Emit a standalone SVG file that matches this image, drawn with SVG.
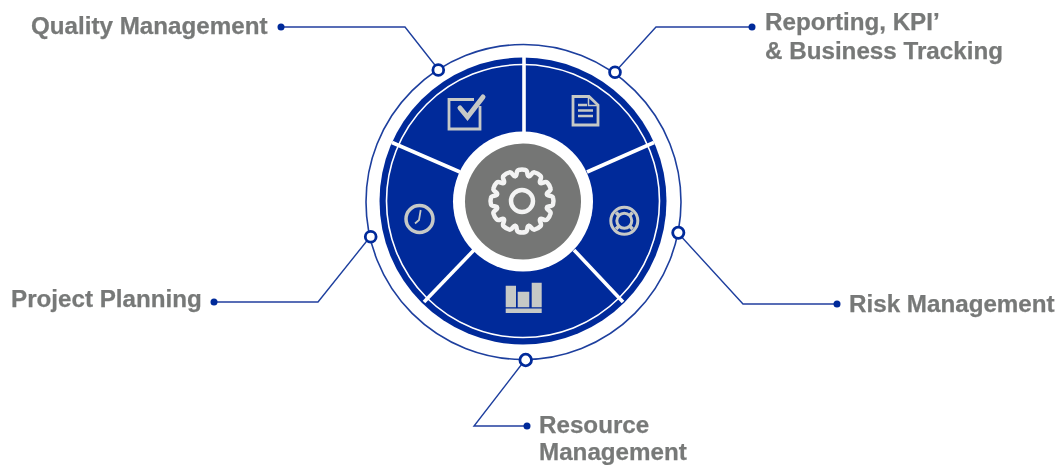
<svg xmlns="http://www.w3.org/2000/svg" xmlns:xlink="http://www.w3.org/1999/xlink" width="1057" height="466" viewBox="0 0 1057 466">
<style>
.lbl{font-family:"Liberation Sans",Arial,sans-serif;font-weight:700;font-size:24.2px;fill:#777978;stroke:#777978;stroke-width:.25}
.conn{fill:none;stroke:#1f3f9e;stroke-width:1.4}
.dot{fill:#00299a}
.port{fill:#fff;stroke:#00299a;stroke-width:2.8}
.ic{fill:none;stroke:#c6c9c6}
.icf{fill:#c6c9c6}
.sep{stroke:#fff;stroke-width:3.6}
.gear{fill:none;stroke:#f3f3f3;stroke-width:4.500;stroke-linejoin:round;stroke-linecap:round}
</style>
<defs>
<filter id="soft" x="0" y="0" width="100%" height="100%"><feGaussianBlur stdDeviation="0.45"/></filter>
<path id="tooth" d="M-6.500,-25C-4.600,-25.200-6.200,-30.300-3.500,-31Q0,-32 3.500,-31C6.200,-30.300 4.600,-25.200 6.500,-25"/>
</defs>
<rect width="1057" height="466" fill="#fff"/>
<g filter="url(#soft)">
<g id="wheel">
<circle cx="523.5" cy="202" r="157.5" fill="none" stroke="#1f3f9e" stroke-width="1.6"/>
<circle cx="523" cy="201" r="143.5" fill="#00299a"/>
<circle cx="523" cy="201" r="136.5" fill="none" stroke="#fff" stroke-width="1.6"/>
<g>
<line class="sep" x1="524" y1="56" x2="524" y2="132"/>
<line class="sep" x1="392" y1="142.500" x2="460" y2="172"/>
<line class="sep" x1="654" y1="142.500" x2="587" y2="172"/>
<line class="sep" x1="424" y1="302" x2="474" y2="250"/>
<line class="sep" x1="623" y1="302" x2="574" y2="250"/>
</g>
<circle cx="523" cy="201.500" r="70" fill="#fff"/>
<circle cx="523" cy="201.500" r="58" fill="#747674"/>
</g>
<g id="gear" class="gear" transform="translate(522,201)">
<circle r="11"/>
<use xlink:href="#tooth"/>
<use xlink:href="#tooth" transform="rotate(30)"/>
<use xlink:href="#tooth" transform="rotate(60)"/>
<use xlink:href="#tooth" transform="rotate(90)"/>
<use xlink:href="#tooth" transform="rotate(120)"/>
<use xlink:href="#tooth" transform="rotate(150)"/>
<use xlink:href="#tooth" transform="rotate(180)"/>
<use xlink:href="#tooth" transform="rotate(210)"/>
<use xlink:href="#tooth" transform="rotate(240)"/>
<use xlink:href="#tooth" transform="rotate(270)"/>
<use xlink:href="#tooth" transform="rotate(300)"/>
<use xlink:href="#tooth" transform="rotate(330)"/>
</g>
<g id="icon-check">
<path class="ic" stroke-width="2.800" d="M480,106V129H449V99.500H474"/>
<path d="M460,108L467.500,117L483,97" fill="none" stroke="#c6c9c6" stroke-width="5" stroke-linecap="round"/>
</g>
<g id="icon-doc">
<path class="ic" stroke-width="2.800" d="M573,96.500H589L598,105V125H573Z"/>
<path class="ic" stroke-width="1.500" d="M588.500,96.500V105.500H598"/>
<path class="ic" stroke-width="2.400" d="M578,105H587M578,110.500H593M578,116H593"/>
</g>
<g id="icon-clock">
<circle class="ic" stroke-width="3.500" cx="419.500" cy="219" r="13.500"/>
<path class="ic" stroke-width="1.800" d="M420.700,210L419,220L415,223.500"/>
</g>
<g id="icon-ring">
<circle class="ic" stroke-width="3" cx="624.300" cy="220.800" r="13.500"/>
<circle class="ic" stroke-width="3" cx="624.300" cy="220.800" r="7.500"/>
<path class="ic" stroke-width="3.600" d="M616,212.500L619,215.500M632.600,212.500L629.600,215.500M616,229L619,226M632.600,229L629.600,226"/>
</g>
<g id="icon-bars">
<path class="icf" d="M505.700,285.700H516V307.300H505.700ZM517.700,291.700H529.300V307.300H517.700ZM531.700,282.700H541.700V307.300H531.700ZM505.700,308.500H541.700V313H505.700Z"/>
</g>
<g id="connectors">
<path class="conn" d="M281,27H405L438,69"/>
<path class="conn" d="M752,27H656L615,72"/>
<path class="conn" d="M837,304H743L678,233"/>
<path class="conn" d="M214,302H318L370,237"/>
<path class="conn" d="M527,426H474L525,360"/>
<circle class="dot" cx="281" cy="27" r="3.500"/>
<circle class="dot" cx="752" cy="27" r="3.500"/>
<circle class="dot" cx="837" cy="304" r="3.500"/>
<circle class="dot" cx="214" cy="302" r="3.500"/>
<circle class="dot" cx="527" cy="426" r="3.500"/>
</g>
<g id="quality"><circle class="port" cx="438.300" cy="70" r="5.400"/><text class="lbl" x="31" y="34">Quality Management</text></g>
<g id="reporting"><circle class="port" cx="615" cy="72.300" r="5.400"/><text class="lbl" x="765" y="30">Reporting, KPI’</text><text class="lbl" x="765" y="59">&amp; Business Tracking</text></g>
<g id="risk"><circle class="port" cx="678.300" cy="232.700" r="5.600"/><text class="lbl" x="849" y="312">Risk Management</text></g>
<g id="planning"><circle class="port" cx="370.700" cy="236.700" r="5.400"/><text class="lbl" x="11" y="307">Project Planning</text></g>
<g id="resource"><circle class="port" cx="525.700" cy="360" r="5.800"/><text class="lbl" x="539" y="433">Resource</text><text class="lbl" x="539" y="460">Management</text></g>
</g>
</svg>
